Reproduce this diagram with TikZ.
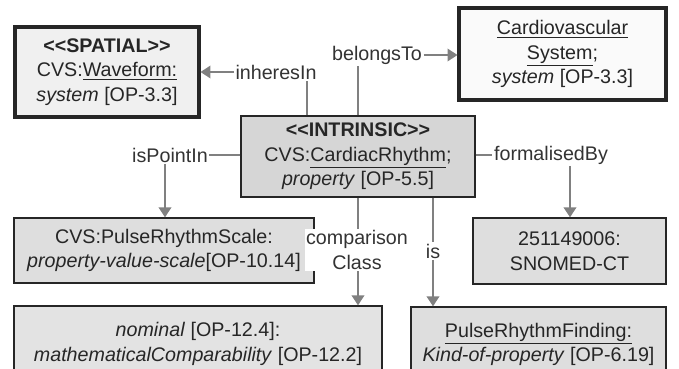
\documentclass[tikz,border=0pt]{standalone}
\usepackage{fontspec}
\setmainfont{Liberation Sans}
\usepackage{tikz}
\usetikzlibrary{arrows.meta,calc}

\newcommand{\stl}{<\kern0pt<}
\newcommand{\str}{>\kern0pt>}

\begin{document}
\begin{tikzpicture}[x=0.025cm,y=-0.025cm,
  font=\fontsize{14}{17.4}\selectfont,
  box/.style={draw=black!85,line width=1pt,fill=black!13,text=black!85,align=center,inner sep=0pt},
  bigbox/.style={box,line width=2.2pt},
  rel/.style={fill=white,text=black!80,inner sep=1pt,align=center},
  line/.style={draw=black!50,line width=1pt},
  arr/.style={line,-{Triangle[length=7pt,width=9pt]}}]
\useasboundingbox (0,0) rectangle (679,369);

% boxes
\node[bigbox,fill=black!6,minimum width=4.6cm,minimum height=2.25cm] (spat) at (107,72)
  {\textbf{\stl SPATIAL\str}\\CVS:\underline{Waveform:}\\\textit{system} [OP-3.3]};
\node[bigbox,fill=black!2,minimum width=5.175cm,minimum height=2.3cm] (cvs) at (562.5,54)
  {\underline{Cardiovascular}\\\underline{System};\\\textit{system} [OP-3.3]};
\node[box,fill=black!16,minimum width=5.85cm,minimum height=2.025cm] (intr) at (358,156.5)
  {\textbf{\stl INTRINSIC\str}\\CVS:\underline{CardiacRhythm};\\\textit{property} [OP-5.5]};
\node[box,minimum width=7.5cm,minimum height=1.625cm] (prs) at (164,250.5)
  {CVS:PulseRhythmScale:\\\textit{property-value-scale}[OP-10.14]};
\node[box,minimum width=4.825cm,minimum height=1.65cm] (snomed) at (569.5,251)
  {251149006:\\SNOMED-CT};
\node[box,fill=black!11,minimum width=9.2cm,minimum height=1.9cm] (nom) at (198,344)
  {\textit{nominal} [OP-12.4]:\\\textit{mathematicalComparability} [OP-12.2]};
\node[box,minimum width=6.375cm,minimum height=1.875cm] (prf) at (538.5,344.5)
  {\underline{PulseRhythmFinding:}\\\textit{Kind-of-property} [OP-6.19]};

% relation labels
\node[rel] (inh) at (276,72) {inheresIn};
\node[rel] (bel) at (377,55) {belongsTo};
\node[rel] (ispt) at (170,155) {isPointIn};
\node[rel] (frm) at (551,155) {formalisedBy};
\node[rel] (cmp) at (357,250) {comparison\\Class};
\node[rel] (isl) at (433,251) {is};

\coordinate (inhx) at (307,0);
\coordinate (isptx) at (165,0);
\coordinate (frmx) at (570,0);
\coordinate (isx) at (433,0);

% connectors
\draw[line] (intr.north -| inhx) -- (inh.south -| inhx);
\draw[arr] (inh.west) -- (spat.east |- inh.west);

\draw[line] (intr.north) -- (intr.north |- bel.south);
\draw[arr] (bel.east) -- (cvs.west |- bel.east);

\draw[line] (intr.west |- ispt.east) -- (ispt.east);
\draw[arr] (ispt.south -| isptx) -- (prs.north -| isptx);

\draw[line] (intr.east |- frm.west) -- (frm.west);
\draw[arr] (frm.south -| frmx) -- (snomed.north -| frmx);

\draw[line] (intr.south) -- (intr.south |- cmp.north);
\draw[arr] (intr.south |- cmp.south) -- (intr.south |- nom.north);

\draw[line] (intr.south -| isx) -- (isl.north -| isx);
\draw[arr] (isl.south -| isx) -- (prf.north -| isx);
\end{tikzpicture}
\end{document}
